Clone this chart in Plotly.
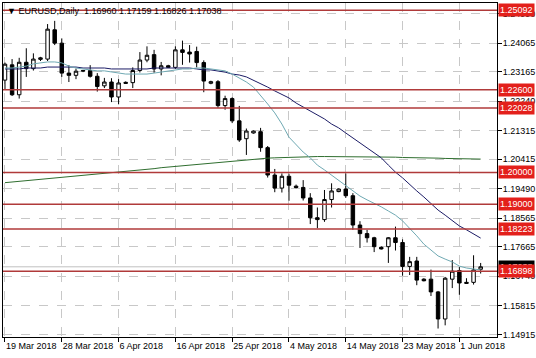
import plotly.graph_objects as go

# ---- data ----
months = ["Mar"] * 11 + ["Apr"] * 26 + ["May"] * 27 + ["Jun"] * 4
days = [19, 20, 21, 22, 23, 25, 26, 27, 28, 29, 30,
        1, 2, 3, 4, 5, 6, 8, 9, 10, 11, 12, 13, 15, 16, 17, 18, 19, 20, 22, 23, 24, 25, 26, 27, 29, 30,
        1, 2, 3, 4, 6, 7, 8, 9, 10, 11, 13, 14, 15, 16, 17, 18, 20, 21, 22, 23, 24, 25, 27, 28, 29, 30, 31,
        1, 3, 4, 5]
dates = [f"{d} {m} 2018" for d, m in zip(days, months)]

opens = [1.2290, 1.2338, 1.2244, 1.2346, 1.2326, 1.2355, 1.2356, 1.2448, 1.2406, 1.2312, 1.2305,
         1.2318, 1.2320, 1.2302, 1.2272, 1.2284, 1.2237, 1.2283, 1.2282, 1.2320, 1.2353, 1.2370,
         1.2325, 1.2335, 1.2330, 1.2385, 1.2378, 1.2380, 1.2345, 1.2280, 1.2285, 1.2210, 1.2232,
         1.2162, 1.2106, 1.2124, 1.2128, 1.2078, 1.1992, 1.1951, 1.1988, 1.1957, 1.1953, 1.1920,
         1.1858, 1.1852, 1.1915, 1.1940, 1.1948, 1.1927, 1.1835, 1.1808, 1.1795, 1.1765, 1.1767,
         1.1795, 1.1780, 1.1705, 1.1722, 1.1665, 1.1665, 1.1625, 1.1540, 1.1665, 1.1692, 1.1655,
         1.1655, 1.16960]
highs = [1.2345, 1.2356, 1.2360, 1.2390, 1.2374, 1.2363, 1.2466, 1.2476, 1.2421, 1.2337, 1.2326,
         1.2322, 1.2337, 1.2312, 1.2297, 1.2296, 1.2293, 1.2286, 1.2330, 1.2378, 1.2396, 1.2385,
         1.2347, 1.2338, 1.2396, 1.2414, 1.2400, 1.2395, 1.2352, 1.2288, 1.2290, 1.2241, 1.2236,
         1.2209, 1.2138, 1.2132, 1.2140, 1.2083, 1.2011, 1.1997, 1.1996, 1.1962, 1.1976, 1.1935,
         1.1890, 1.1945, 1.1966, 1.1950, 1.1997, 1.1935, 1.1847, 1.1820, 1.1798, 1.1768, 1.1797,
         1.1830, 1.1790, 1.1735, 1.1735, 1.1668, 1.1695, 1.1628, 1.1672, 1.1725, 1.1703, 1.1668,
         1.1740, 1.17159]
lows = [1.2262, 1.2240, 1.2232, 1.2300, 1.2320, 1.2350, 1.2350, 1.2400, 1.2300, 1.2284, 1.2293,
        1.2315, 1.2298, 1.2254, 1.2265, 1.2221, 1.2214, 1.2278, 1.2265, 1.2314, 1.2346, 1.2313,
        1.2305, 1.2328, 1.2325, 1.2338, 1.2345, 1.2330, 1.2252, 1.2277, 1.2203, 1.2197, 1.2155,
        1.2096, 1.2055, 1.2122, 1.2065, 1.1984, 1.1938, 1.1937, 1.1911, 1.1950, 1.1912, 1.1838,
        1.1825, 1.1845, 1.1890, 1.1938, 1.1920, 1.1820, 1.1763, 1.1780, 1.1750, 1.1758, 1.1716,
        1.1755, 1.1676, 1.1678, 1.1646, 1.1658, 1.1612, 1.1510, 1.1520, 1.1637, 1.1616, 1.1650,
        1.1648, 1.16826]
closes = [1.2340, 1.2244, 1.2346, 1.2326, 1.2356, 1.2360, 1.2450, 1.2406, 1.2312, 1.2305, 1.2318,
          1.2320, 1.2302, 1.2270, 1.2284, 1.2237, 1.2281, 1.2280, 1.2320, 1.2353, 1.2368, 1.2325,
          1.2335, 1.2330, 1.2385, 1.2377, 1.2372, 1.2345, 1.2287, 1.2285, 1.2210, 1.2232, 1.2162,
          1.2102, 1.2130, 1.2130, 1.2078, 1.1992, 1.1951, 1.1988, 1.1960, 1.1953, 1.1920, 1.1858,
          1.1852, 1.1915, 1.1942, 1.1948, 1.1927, 1.1835, 1.1808, 1.1795, 1.1767, 1.1760, 1.1795,
          1.1780, 1.1705, 1.1720, 1.1662, 1.1660, 1.1625, 1.1540, 1.1668, 1.1690, 1.1653, 1.1652,
          1.1694, 1.17038]

ma_fast = [1.2328, 1.2328, 1.2331, 1.2334, 1.2341, 1.2344, 1.2347, 1.2347, 1.2344, 1.2334, 1.2328,
           1.2325, 1.2322, 1.2319, 1.2319, 1.2315, 1.2312, 1.2309, 1.2309, 1.2309, 1.2309, 1.2312,
           1.2315, 1.2319, 1.2322, 1.2325, 1.2325, 1.2328, 1.2328, 1.2325, 1.2322, 1.2319, 1.2309,
           1.2297, 1.2284, 1.2268, 1.2243, 1.2215, 1.2187, 1.2152, 1.2111, 1.2086, 1.2064, 1.2046,
           1.2023, 1.2008, 1.1992, 1.1976, 1.1958, 1.1942, 1.1926, 1.1914, 1.1904, 1.1892, 1.1879,
           1.1866, 1.1848, 1.1826, 1.1801, 1.1775, 1.1757, 1.1738, 1.1728, 1.1719, 1.1706, 1.1700,
           1.1697, 1.1694]
ma_mid = [1.2325, 1.2325, 1.2325, 1.2328, 1.2328, 1.2328, 1.2331, 1.2331, 1.2331, 1.2331, 1.2331,
          1.2328, 1.2328, 1.2328, 1.2328, 1.2325, 1.2325, 1.2325, 1.2325, 1.2325, 1.2325, 1.2328,
          1.2328, 1.2328, 1.2328, 1.2328, 1.2328, 1.2325, 1.2322, 1.2322, 1.2319, 1.2315, 1.2309,
          1.2306, 1.2300, 1.2290, 1.2278, 1.2268, 1.2256, 1.2246, 1.2234, 1.2218, 1.2206, 1.2193,
          1.2181, 1.2168, 1.2152, 1.2140, 1.2124, 1.2108, 1.2093, 1.2077, 1.2061, 1.2046, 1.2023,
          1.2001, 1.1983, 1.1961, 1.1942, 1.1923, 1.1901, 1.1882, 1.1866, 1.1848, 1.1832, 1.1820,
          1.1807, 1.1794]
ma_slow = [1.1968, 1.1970, 1.1972, 1.1974, 1.1976, 1.1978, 1.1980, 1.1982, 1.1984, 1.1986, 1.1988,
           1.1990, 1.1992, 1.1994, 1.1996, 1.1998, 1.2000, 1.2003, 1.2005, 1.2008, 1.2010, 1.2012,
           1.2015, 1.2017, 1.2020, 1.2022, 1.2024, 1.2026, 1.2028, 1.2030, 1.2033, 1.2035, 1.2037,
           1.2039, 1.2041, 1.2043, 1.2044, 1.2045, 1.2046, 1.2047, 1.2048, 1.2049, 1.2049, 1.2050,
           1.2050, 1.2050, 1.2050, 1.2050, 1.2050, 1.2050, 1.2050, 1.2049, 1.2049, 1.2049, 1.2048,
           1.2048, 1.2047, 1.2047, 1.2046, 1.2046, 1.2045, 1.2045, 1.2044, 1.2044, 1.2043, 1.2043,
           1.2042, 1.2042]

level_lines = [1.25092, 1.22600, 1.22028, 1.20000, 1.19000, 1.18223, 1.16898]
y_ticks = [1.24990, 1.24065, 1.23165, 1.22240, 1.21315, 1.20415, 1.19490, 1.18565,
           1.17665, 1.16740, 1.15815, 1.14915]
x_tick_idx = [0, 8, 16, 24, 32, 40, 48, 56, 64]
symbol = "EURUSD,Daily"

# ---- figure ----
FONT = "Liberation Sans"
fig = go.Figure()

fig.add_trace(go.Scatter(x=dates, y=ma_slow, mode="lines",
                         line=dict(color="#2f6e2f", width=1), hoverinfo="skip"))
fig.add_trace(go.Scatter(x=dates, y=ma_mid, mode="lines",
                         line=dict(color="#1c1c66", width=1), hoverinfo="skip"))
fig.add_trace(go.Scatter(x=dates, y=ma_fast, mode="lines",
                         line=dict(color="#6fa9b3", width=1), hoverinfo="skip"))

fig.add_trace(go.Candlestick(
    x=dates, open=opens, high=highs, low=lows, close=closes,
    increasing=dict(line=dict(color="black", width=1), fillcolor="white"),
    decreasing=dict(line=dict(color="black", width=1), fillcolor="black"),
    whiskerwidth=0,
))

# bid line
fig.add_shape(type="line", xref="paper", x0=0, x1=1, yref="y",
              y0=closes[-1], y1=closes[-1], line=dict(color="#c0c0c0", width=1), layer="below")
# horizontal level lines
for lv in level_lines:
    fig.add_shape(type="line", xref="paper", x0=0, x1=1, yref="y", y0=lv, y1=lv,
                  line=dict(color="#b03a3a", width=1.5))

# price boxes on the right
fig.add_annotation(x=1, xref="paper", xanchor="left", xshift=1, y=closes[-1], yref="y",
                   yanchor="middle", text=f"{closes[-1]:.5f}", showarrow=False,
                   bgcolor="black", font=dict(color="white", size=9, family=FONT), borderpad=1)
for lv in level_lines:
    fig.add_annotation(x=1, xref="paper", xanchor="left", xshift=1, y=lv, yref="y",
                       yanchor="middle", text=f"{lv:.5f}", showarrow=False,
                       bgcolor="#e3201b", font=dict(color="white", size=9, family=FONT), borderpad=1)

# title
fig.add_annotation(x=0, xref="paper", xanchor="left", xshift=2, y=1, yref="paper",
                   yanchor="top", yshift=-1, showarrow=False,
                   text=f"▼ {symbol}  {opens[-1]:.5f} {highs[-1]:.5f} {lows[-1]:.5f} {closes[-1]:.5f}",
                   font=dict(color="black", size=9, family=FONT))

fig.update_layout(
    width=536, height=358,
    margin=dict(l=3, r=39, t=3, b=21, autoexpand=False),
    paper_bgcolor="white", plot_bgcolor="white",
    showlegend=False,
    font=dict(family=FONT, size=9, color="black"),
    xaxis=dict(
        type="category", range=[-0.28, 69.3], rangeslider=dict(visible=False),
        tickmode="array", tickvals=[dates[i] for i in x_tick_idx],
        ticktext=[dates[i] for i in x_tick_idx], tickangle=0, automargin=False,
        ticks="outside", ticklen=4, tickcolor="black", ticklabelposition="outside right",
        showgrid=True, gridcolor="#c8c8c8", griddash="dash", gridwidth=1,
        showline=True, linecolor="black", linewidth=1, mirror=True, zeroline=False,
        fixedrange=True,
    ),
    yaxis=dict(
        side="right", range=[1.14834, 1.25321], automargin=False,
        tickmode="array", tickvals=y_ticks, ticktext=[f"{v:.5f}" for v in y_ticks],
        ticks="outside", ticklen=4, tickcolor="black", ticklabelstandoff=-1,
        showgrid=True, gridcolor="#c8c8c8", griddash="dash", gridwidth=1,
        showline=True, linecolor="black", linewidth=1, mirror=True, zeroline=False,
        fixedrange=True,
    ),
)

fig.write_html("out.html", config={"displayModeBar": False},
               post_script="document.body.style.margin='0';document.body.style.overflow='hidden';")
